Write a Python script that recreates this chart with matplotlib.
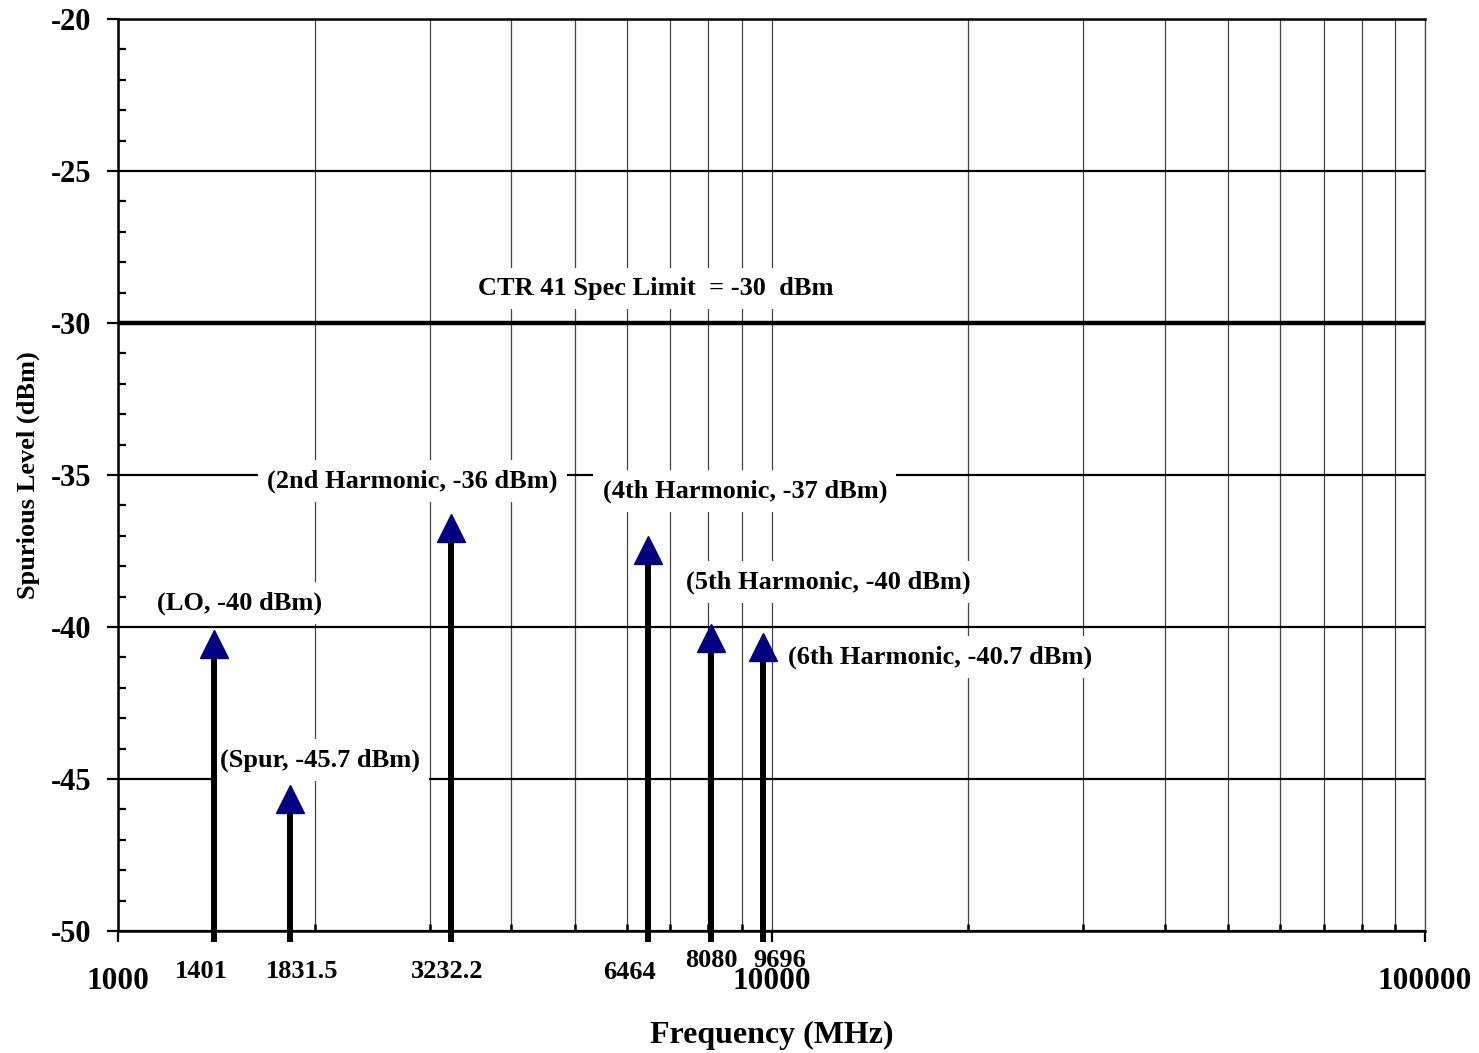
import matplotlib
matplotlib.use('Agg')
import matplotlib.pyplot as plt
import matplotlib.transforms as mtransforms
from matplotlib.ticker import FixedLocator, NullFormatter, LogLocator

# Dados
freqs = [1401, 1831.5, 3232.2, 6464, 8080, 9696]
freq_labels = ['1401', '1831.5', '3232.2', '6464', '8080', '9696']
levels = [-40.1, -45.2, -36.3, -37.0, -39.9, -40.2]
names = ['(LO, -40 dBm)', '(Spur, -45.7 dBm)', '(2nd Harmonic, -36 dBm)',
         '(4th Harmonic, -37 dBm)', '(5th Harmonic, -40 dBm)',
         '(6th Harmonic, -40.7 dBm)']
spec_limit = -30
spec_text = 'CTR 41 Spec Limit  = -30  dBm'

# posicoes dos rotulos (x, y em dados)
name_pos = [(1537, -39.21), (2037, -44.37), (2818, -35.2),
            (9108, -35.53), (12203, -38.52), (18108, -40.98)]
# deslocamento (pontos) dos rotulos de frequencia
flabel_off = [(-9, -29), (9, -29), (-3, -29), (-13, -30), (0, -21), (12, -21)]

plt.rcParams['font.family'] = ['Liberation Serif', 'DejaVu Serif']
plt.rcParams['font.weight'] = 'bold'

fig = plt.figure(figsize=(14.79, 10.53), dpi=100)
ax = fig.add_axes([118 / 1479, (1053 - 931) / 1053, (1425 - 118) / 1479, (931 - 19) / 1053])

ax.set_xscale('log')
ax.set_xlim(1000, 100000)
ax.set_ylim(-50, -20)

# grades
ax.xaxis.set_major_locator(FixedLocator([1000, 10000, 100000]))
ax.xaxis.set_minor_locator(LogLocator(base=10, subs=range(2, 10)))
ax.xaxis.set_minor_formatter(NullFormatter())
ax.set_xticklabels(['1000', '10000', '100000'], fontsize=22.5, fontweight='bold')
ax.grid(True, which='both', axis='x', color='#444444', lw=0.9)
ax.set_yticks([-50, -45, -40, -35, -30, -25, -20])
ax.set_yticks(range(-50, -19), minor=True)
ax.set_yticklabels(['-50', '-45', '-40', '-35', '-30', '-25', '-20'],
                   fontsize=22, fontweight='bold')
ax.grid(True, which='major', axis='y', color='black', lw=1.6)
ax.axhline(spec_limit, color='black', lw=3.2, zorder=2)

ax.tick_params(axis='x', which='major', direction='out', length=8, width=1.6, pad=18)
ax.tick_params(axis='x', which='minor', direction='in', length=5, width=1.8)
ax.tick_params(axis='y', which='major', direction='out', length=8, width=1.6, pad=11)
ax.tick_params(axis='y', which='minor', direction='in', length=6, width=1.6)

for s in ['left', 'bottom', 'top']:
    ax.spines[s].set_linewidth(1.8)
ax.spines['right'].set_color('#444444')
ax.spines['right'].set_linewidth(0.9)

# setas
head_tr = mtransforms.offset_copy(ax.transData, fig=fig, x=0, y=-10, units='points')
for f, lv in zip(freqs, levels):
    ax.vlines(f, -50.36, lv - 0.6, color='black', lw=4.3, clip_on=False, zorder=4)
    ax.plot([f], [lv], marker='^', ms=20.5, color='#000080', mec='#000080',
            transform=head_tr, clip_on=False, zorder=5)

# rotulos das componentes
box = dict(facecolor='white', edgecolor='none', boxstyle='square,pad=0.35')
for (x, y), t in zip(name_pos, names):
    ax.text(x, y, t, ha='center', va='center', fontsize=19, fontweight='bold',
            bbox=box, zorder=3)
ax.text(6658, -28.86, spec_text, ha='center', va='center', fontsize=19,
        fontweight='bold', bbox=box, zorder=3)

# rotulos das frequencias
for f, t, (dx, dy) in zip(freqs, freq_labels, flabel_off):
    tr = mtransforms.offset_copy(ax.get_xaxis_transform(), fig=fig, x=dx, y=dy, units='points')
    ax.text(f, 0, t, transform=tr, ha='center', va='center', fontsize=19,
            fontweight='bold')

ax.set_xlabel('Frequency (MHz)', fontsize=23, fontweight='bold', labelpad=18)
ax.set_ylabel('Spurious Level (dBm)', fontsize=19, fontweight='bold', labelpad=8)

fig.savefig('out.png', dpi=100, facecolor='white')
